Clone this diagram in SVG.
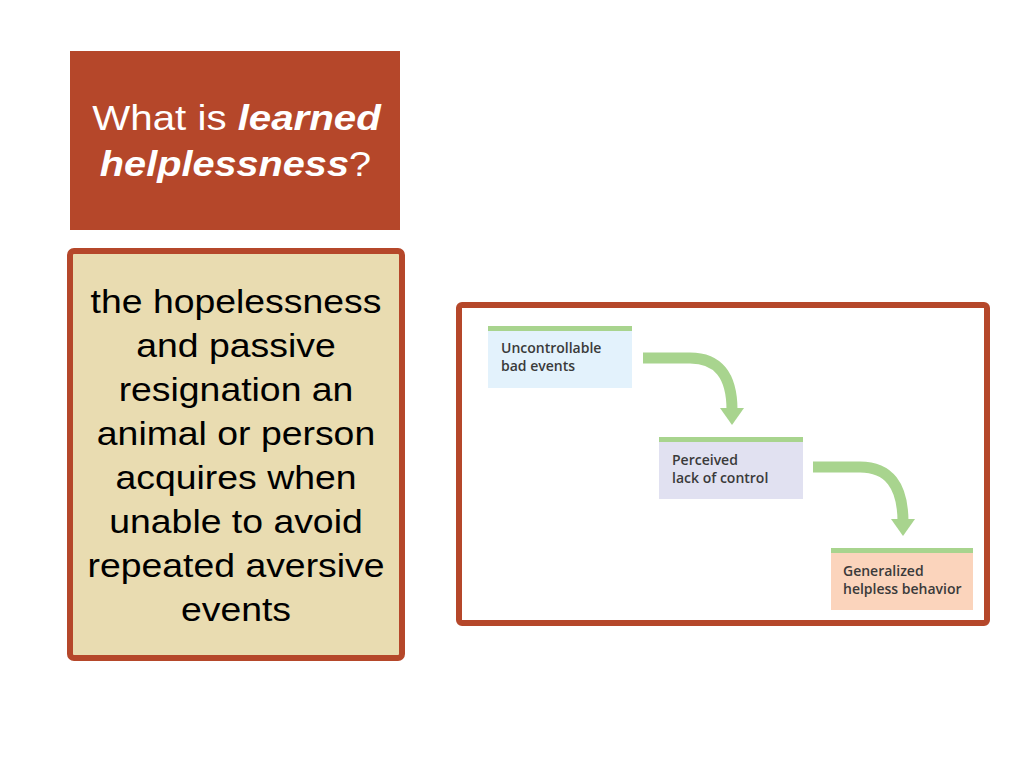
<svg xmlns="http://www.w3.org/2000/svg" width="1024" height="768" viewBox="0 0 1024 768">
<style>
.big{font-family:"Liberation Sans",Arial,sans-serif;text-anchor:middle}
.def{font-size:32.5px;fill:#000000}
.lbl{font-family:"Open Sans","Noto Sans",sans-serif;font-size:14px;font-weight:600;fill:#3a3a3a}
.bar{fill:#a8d48e}
.arr{fill:none;stroke:#a8d48e;stroke-width:11}
.head{fill:#a8d48e}
</style>
<rect width="1024" height="768" fill="#ffffff"/>
<g id="title">
<rect x="70" y="51" width="330" height="179" fill="#b5472a"/>
<g transform="translate(236,0) scale(1.15,1)">
<text class="big" x="0.5" y="130" font-size="35" fill="#ffffff">What is <tspan font-weight="bold" font-style="italic">learned</tspan></text>
<text class="big" x="-0.5" y="176" font-size="34.5" fill="#ffffff"><tspan font-weight="bold" font-style="italic">helplessness</tspan>?</text>
</g>
</g>
<g id="definition">
<rect x="70" y="251" width="332" height="407" rx="4" fill="#e9dcb1" stroke="#b5472a" stroke-width="6"/>
<g transform="translate(236,0) scale(1.15,1)">
<text class="big def" x="0" y="313">the hopelessness</text>
<text class="big def" x="0" y="357">and passive</text>
<text class="big def" x="0" y="401">resignation an</text>
<text class="big def" x="0" y="445">animal or person</text>
<text class="big def" x="0" y="489">acquires when</text>
<text class="big def" x="0" y="533">unable to avoid</text>
<text class="big def" x="0" y="577">repeated aversive</text>
<text class="big def" x="0" y="621">events</text>
</g>
</g>
<g id="frame">
<rect x="459" y="305" width="528" height="318" rx="3" fill="#ffffff" stroke="#b5472a" stroke-width="6"/>
</g>
<g id="node1">
<rect x="488" y="326" width="144" height="62" fill="#e3f2fc"/>
<rect class="bar" x="488" y="326" width="144" height="5"/>
<text class="lbl" x="501" y="353">Uncontrollable</text>
<text class="lbl" x="501" y="371">bad events</text>
</g>
<g id="node2">
<rect x="659" y="437" width="144" height="62" fill="#e1e1f1"/>
<rect class="bar" x="659" y="437" width="144" height="5"/>
<text class="lbl" x="672" y="465">Perceived</text>
<text class="lbl" x="672" y="483">lack of control</text>
</g>
<g id="node3">
<rect x="831" y="548" width="142" height="62" fill="#fbd4bc"/>
<rect class="bar" x="831" y="548" width="142" height="5"/>
<text class="lbl" x="843" y="576">Generalized</text>
<text class="lbl" x="843" y="594">helpless behavior</text>
</g>
<g id="connectors">
<path class="arr" d="M643,358 H690 Q732,358 732,410"/>
<polygon class="head" points="720,408 744,408 732,425"/>
<path class="arr" d="M813,467 H860 Q903,467 903,522"/>
<polygon class="head" points="891,519 915,519 903,536"/>
</g>
</svg>
